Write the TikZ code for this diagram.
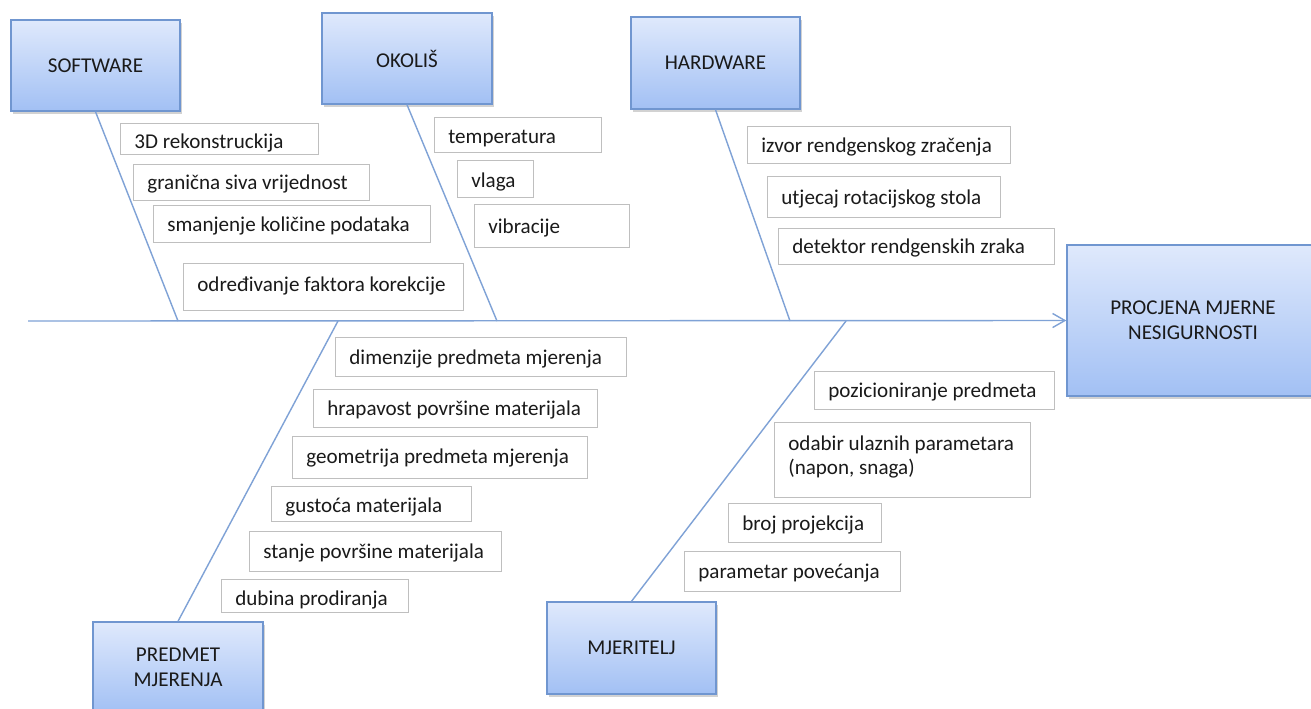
\documentclass[tikz,border=0pt]{standalone}
\usepackage{fontspec}
\setmainfont{Carlito}
\usetikzlibrary{arrows.meta,shadows}
\definecolor{boneblue}{HTML}{7FA2D6}
\definecolor{catborder}{HTML}{7096D0}
\definecolor{cattop}{HTML}{DFE9FC}
\definecolor{catbot}{HTML}{A2C0F4}
\definecolor{tborder}{HTML}{BFBFBF}
\definecolor{txt}{HTML}{1A1A1A}
\newcommand\mkbox[7][0]{%
  \node[tbox,anchor=north west,minimum width={(#5-#3)*0.02cm},minimum height={(#6-#4)*0.02cm}] (#2) at (#3,#4) {};
  \node[ttext,anchor=west] (#2t) at ([shift={(14,#1)}]#2.west) {#7};}
\begin{document}
\begin{tikzpicture}[x=0.02cm,y=-0.02cm,
  font=\fontsize{12}{14}\selectfont, text=txt,
  bone/.style={draw=boneblue, line width=0.8pt},
  cat/.style={draw=catborder, line width=0.8pt, top color=cattop, bottom color=catbot,
    drop shadow={shadow xshift=1.2pt, shadow yshift=-1.5pt, opacity=0.35},
    align=center, inner sep=0pt},
  tbox/.style={draw=tborder, line width=0.6pt, fill=white, inner sep=0pt},
  ttext/.style={inner sep=0pt, align=left, text height=9pt, text depth=1pt},
  ttextml/.style={inner sep=0pt, align=left}]
\useasboundingbox (0,0) rectangle (1311,708);
\clip (0,0) rectangle (1311,708);
\fill[white] (0,0) rectangle (1311,708);

% category boxes
\node[cat, minimum width=169*0.02cm, minimum height=91*0.02cm] (sw) at (95.5,65.5) {SOFTWARE};
\node[cat, minimum width=170*0.02cm, minimum height=91*0.02cm] (ok) at (407,58.5) {OKOLIŠ};
\node[cat, minimum width=169*0.02cm, minimum height=92*0.02cm] (hw) at (715.5,63) {HARDWARE};
\node[cat, minimum width=170*0.02cm, minimum height=91*0.02cm] (pm) at (178,667.5) {PREDMET\\MJERENJA};
\node[cat, minimum width=169*0.02cm, minimum height=92*0.02cm] (mj) at (631.5,648) {MJERITELJ};
\node[cat, minimum width=252*0.02cm, minimum height=151*0.02cm] (pr) at (1193,320.5) {PROCJENA MJERNE\\NESIGURNOSTI};

% spine and bones
\coordinate (tail) at (28,321);
\coordinate (jsw) at (178,321);
\coordinate (jok) at (497,321);
\coordinate (jhw) at (790,321);
\coordinate (jpm) at (338,321);
\coordinate (jmj) at (846,321);
\draw[bone, -{Straight Barb[length=7pt,width=8pt]}] (tail) -- (pr.west);
\draw[bone] (sw.south) -- (jsw);
\draw[bone] (ok.south) -- (jok);
\draw[bone] (hw.south) -- (jhw);
\draw[bone] (pm.north) -- (jpm);
\draw[bone] (mj.north) -- (jmj);

% cause boxes
\mkbox[2]{s1}{120}{123}{318}{154}{3D rekonstruckija}
\mkbox{s2}{133}{164}{369}{200}{granična siva vrijednost}
\mkbox{s3}{153}{205}{430}{242}{smanjenje količine podataka}
\mkbox[-3]{s4}{183}{263}{463}{310}{određivanje faktora korekcije}
\mkbox[1]{o1}{434}{117}{601}{152}{temperatura}
\mkbox[1]{o2}{457}{160}{533}{197}{vlaga}
\mkbox{o3}{474}{204}{629}{247}{vibracije}
\mkbox{h1}{747}{126}{1010}{163}{izvor rendgenskog zračenja}
\mkbox{h2}{767}{176}{1000}{217}{utjecaj rotacijskog stola}
\mkbox{h3}{778}{228}{1054}{264}{detektor rendgenskih zraka}
\mkbox{p1}{335}{337}{626}{376}{dimenzije predmeta mjerenja}
\mkbox{p2}{313}{389}{597}{427}{hrapavost površine materijala}
\mkbox[-1]{p3}{292}{436}{587}{478}{geometrija predmeta mjerenja}
\mkbox[1]{p4}{271}{486}{471}{521}{gustoća materijala}
\mkbox{p5}{249}{531}{501}{571}{stanje površine materijala}
\mkbox[2]{p6}{221}{579}{408}{612}{dubina prodiranja}
\mkbox{m1}{814}{371}{1054}{409}{pozicioniranje predmeta}
\node[tbox,anchor=north west,minimum width={(1030-774)*0.02cm},minimum height={(497-422)*0.02cm}] (m2) at (774,422) {};
\node[ttextml,anchor=west] (m2t) at ([shift={(14,-3)}]m2.west) {odabir ulaznih parametara\\(napon, snaga)};
\mkbox{m3}{728}{503}{881}{542}{broj projekcija}
\mkbox{m4}{684}{551}{900}{591}{parametar povećanja}
\end{tikzpicture}
\end{document}
